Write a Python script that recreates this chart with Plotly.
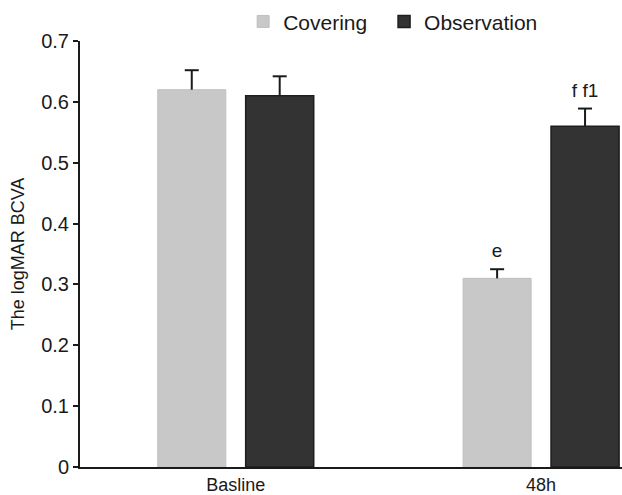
import plotly.graph_objects as go

categories = ["Basline", "48h"]
covering = [0.62, 0.31]
covering_err = [0.032, 0.015]
observation = [0.61, 0.56]
observation_err = [0.032, 0.029]
labels_covering = ["", "e"]
labels_observation = ["", "f f1"]

FONT = "Liberation Sans, Arial, sans-serif"
INK = "#1a1a1a"

fig = go.Figure()
series = [
    ("Covering", covering, covering_err, labels_covering, "#c8c8c8", "#c0c0c0", 1, "legend"),
    ("Observation", observation, observation_err, labels_observation, "#333333", "#1e1e1e", 1.5, "legend2"),
]
for name, vals, errs, labs, col, lcol, lw, leg in series:
    fig.add_trace(go.Bar(
        name=name, x=categories, y=vals, offsetgroup=name, legend=leg,
        marker=dict(color=col, line=dict(color=lcol, width=lw)),
        error_y=dict(type="data", symmetric=False, array=errs,
                     arrayminus=[0] * len(errs), color=INK, thickness=2, width=0),
    ))
for name, vals, errs, labs, col, lcol, lw, leg in series:
    tops = [v + e for v, e in zip(vals, errs)]
    fig.add_trace(go.Scatter(
        x=categories, y=tops, mode="markers+text", offsetgroup=name,
        text=labs, textposition="top center",
        textfont=dict(size=19, color=INK, family=FONT),
        marker=dict(symbol="line-ew", size=10, line=dict(color=INK, width=2), color=INK),
        showlegend=False, hoverinfo="skip", cliponaxis=False,
    ))

legend_common = dict(orientation="h", xanchor="left", y=1.045, yanchor="middle",
                     font=dict(size=21, color=INK, family=FONT), itemwidth=30,
                     bgcolor="rgba(0,0,0,0)")

fig.update_layout(
    width=622, height=495,
    margin=dict(l=80, r=0, t=41, b=28),
    paper_bgcolor="white", plot_bgcolor="white",
    barmode="group", bargap=0.424, bargroupgap=0.226,
    scattermode="group", scattergap=0.424,
    font=dict(family=FONT, size=19, color=INK),
    showlegend=True,
    legend=dict(x=0.301, **legend_common),
    legend2=dict(x=0.561, **legend_common),
    xaxis=dict(type="category", range=[-0.51, 1.265], showline=True, linecolor=INK,
               linewidth=2, ticks="", showgrid=False, zeroline=False, automargin=False,
               tickfont=dict(size=18, color=INK)),
    yaxis=dict(range=[0, 0.7], tickvals=[0, 0.1, 0.2, 0.3, 0.4, 0.5, 0.6, 0.7],
               ticktext=["0", "0.1", "0.2", "0.3", "0.4", "0.5", "0.6", "0.7"],
               showline=True, linecolor=INK, linewidth=2, ticks="outside", ticklen=5,
               tickwidth=2, tickcolor=INK, showgrid=False, zeroline=False, automargin=False,
               tickfont=dict(size=20, color=INK),
               title=dict(text="The logMAR BCVA", font=dict(size=18, color=INK), standoff=12)),
)

# remove the page's default body margin so the figure fills the window exactly
fig.write_html("out.html", config={"displayModeBar": False},
               post_script="document.body.style.margin='0';")
